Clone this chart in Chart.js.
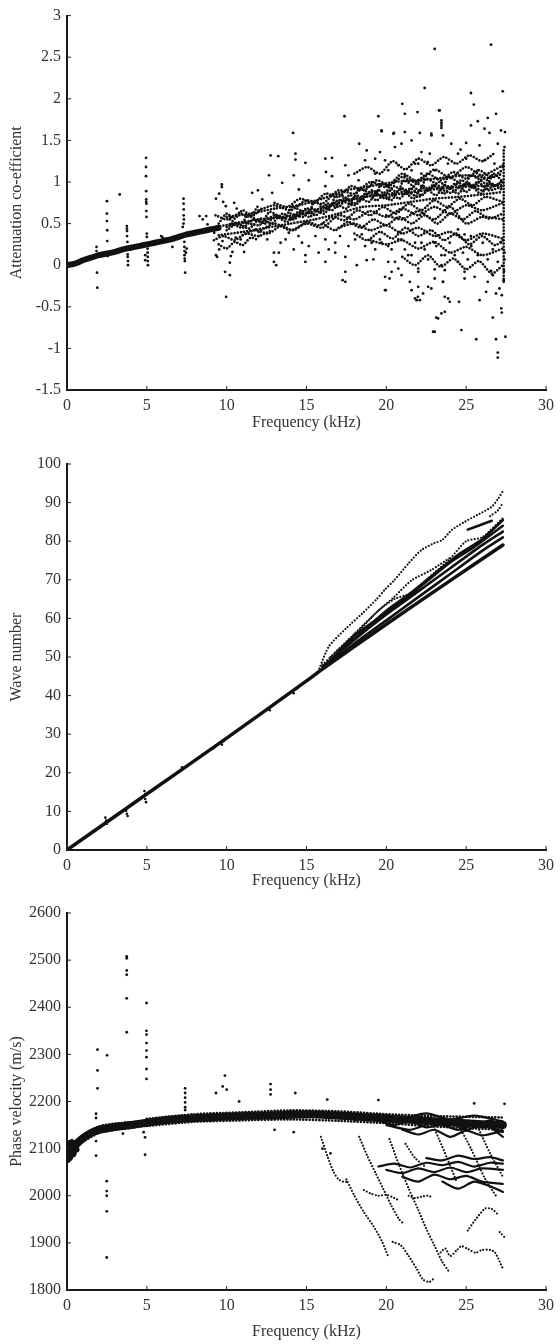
<!DOCTYPE html>
<html>
<head>
<meta charset="utf-8">
<script src="https://cdn.jsdelivr.net/npm/chart.js@4.4.1/dist/chart.umd.min.js"></script>
<style>
  html, body { margin: 0; padding: 0; background: #fff; }
  canvas { display: block; }
</style>
</head>
<body>
<canvas id="attn" width="560" height="436"></canvas>
<canvas id="wave" width="560" height="454"></canvas>
<canvas id="vel" width="560" height="454"></canvas>
<script>
// ---------- attenuation co-efficient vs frequency (kHz) ----------
const attnBand = [[0,0],[0.5,0.02],[1,0.06],[1.5,0.09],[2,0.12],[2.5,0.14],[3,0.16],[3.5,0.19],[4,0.21],[4.5,0.23],[5,0.25],[5.5,0.27],[6,0.29],[6.5,0.31],[7,0.34],[7.5,0.37],[8,0.39],[8.5,0.41],[9,0.43],[9.5,0.45]];
const attnStreaks = [[1.85,0.22],[1.85,0.17],[1.88,-0.09],[1.9,-0.27],
  [2.5,0.77],[2.5,0.62],[2.5,0.53],[2.52,0.42],[2.52,0.29],[2.55,0.11],[3.3,0.85],
  [3.75,0.47],[3.75,0.44],[3.76,0.41],[3.76,0.35],[3.78,0.28],[3.8,0.13],[3.8,0.1],[3.82,0.05],[3.82,0.0],
  [4.95,1.29],[4.95,1.18],[4.95,1.07],[4.96,0.89],[4.96,0.79],[4.96,0.76],[4.97,0.74],[4.97,0.65],[4.98,0.58],[5.0,0.38],[5.0,0.34],
  [5.05,0.2],[5.05,0.15],[5.06,0.1],[5.06,0.05],[5.07,0.0],[4.9,0.12],[4.9,0.06],
  [5.9,0.35],[6.0,0.33],[6.2,0.32],[6.6,0.22],
  [7.3,0.8],[7.3,0.74],[7.31,0.67],[7.31,0.6],[7.32,0.55],[7.3,0.5],[7.25,0.46],[7.35,0.28],[7.35,0.22],[7.36,0.17],[7.36,0.12],
  [7.37,0.08],[7.38,0.05],[7.4,-0.09],[7.5,0.2],[7.45,0.15]];
const attnCloud = [
  [9.33,0.8],[9.7,0.97],[9.7,0.94],[9.53,0.86],[9.78,0.76],[9.95,0.71],[10.47,0.75],[10.63,0.68],[10.78,0.63],[11.6,0.87],[11.96,0.9],
  [9.33,0.12],[9.4,0.1],[9.9,-0.08],[10.2,-0.12],[10.2,0.03],[10.26,0.11],[9.53,0.19],[11.09,0.16],[10.36,0.16],[9.74,0.29],
  [10.57,0.33],[10.88,0.31],[9.22,0.39],[8.8,0.49],[8.5,0.55],[8.3,0.59],[8.72,0.59],[11.5,0.59],[11.2,0.51],[9.97,-0.38],
  [17.38,1.79],[14.16,1.59],[19.5,1.79],[21.0,1.94],[21.16,1.82],[22.4,2.13],[23.03,2.6],[21.95,1.84],[23.3,1.86],[23.45,1.71],
  [23.45,1.65],[22.82,1.58],[22.1,1.59],[20.48,1.59],[19.7,1.62],[18.3,1.46],[18.77,1.38],[20.54,1.42],[16.18,1.28],[16.6,1.29],
  [12.75,1.32],[13.23,1.31],[14.31,1.34],[14.31,1.27],[14.93,1.23],[17.43,1.2],[16.22,1.12],[14.2,1.08],[12.65,1.08],[19.6,1.36],
  [19.3,1.28],[18.67,1.26],[21.16,1.6],[21.58,1.5],[20.95,1.46],[22.2,1.36],[22.72,1.34],[21.8,1.22],
  [12.96,0.04],[13.1,0.0],[13.27,0.15],[14.72,0.27],[14.93,0.12],[14.93,0.04],[16.18,0.04],[17.43,-0.08],[17.26,-0.18],[17.43,-0.2],
  [19.92,-0.14],[19.92,-0.3],[20.2,-0.16],[20.33,-0.08],[19.19,0.07],[18.77,0.06],[17.43,0.1],[18.15,0.0],[21.47,-0.2],[21.58,-0.3],
  [21.8,-0.4],[22.1,-0.42],[22.3,-0.34],[22.62,-0.26],[23.03,-0.16],[22.93,-0.8],[23.24,-0.64],[23.66,-0.56],[23.55,-0.2],[23.03,-0.05],
  [22.0,-0.08],[21.37,0.12],[20.95,-0.12],[20.54,0.04],[19.3,0.19],[18.67,0.23],[17.63,0.23],[16.8,0.15],[16.39,0.19],[15.76,0.15],
  [15.14,0.23],[14.2,0.19],[13.69,0.31],[13.38,0.27],[11.82,0.43],[12.96,0.15],
  [26.56,2.65],[25.3,2.07],[27.29,2.09],[25.48,1.93],[23.34,1.86],[25.3,1.68],[25.73,1.73],[26.35,1.77],[26.87,1.82],[26.15,1.64],
  [26.46,1.59],[27.18,1.62],[27.43,1.6],[23.45,1.74],[23.45,1.68],[23.55,1.56],[24.07,1.46],[25.0,1.47],[24.65,1.39],[25.84,1.44],
  [26.98,1.46],[27.4,1.42],[19.71,1.61],[20.44,1.58],[22.83,1.56],
  [23.03,-0.8],[24.7,-0.78],[25.63,-0.89],[26.87,-0.89],[26.98,-1.05],[26.98,-1.11],[27.46,-0.86],[26.67,-0.63],[27.23,-0.57],[27.2,-0.52],
  [23.13,-0.63],[23.45,-0.58],[19.96,-0.3],[21.9,-0.42],[21.98,-0.38],[22.82,-0.28],[23.55,-0.2],[23.66,-0.38],[23.87,-0.4],[23.97,-0.44],
  [24.55,-0.44],[24.9,-0.16],[25.53,-0.14],[25.84,-0.42],[26.25,-0.32],[26.35,-0.2],[26.67,-0.12],[26.87,-0.34],[27.08,-0.28],[27.23,-0.36],
  [27.35,-0.18],[26.56,-0.07],[27.37,-0.07],[27.4,0.07],[23.66,-0.06],[22.0,-0.26],
  [24.49,1.34],[25.0,1.28],[23.86,1.22],[22.6,1.24],[22.0,1.22],[20.75,1.2],[21.58,1.14],[26.15,1.26],[26.77,1.22],[27.29,1.18],
  [25.73,1.14],[19.92,1.26],
  [19.7,0.27],[20.33,0.19],[20.95,0.31],[21.58,0.12],[22.2,0.27],[22.62,0.07],[23.13,0.23],[23.66,0.12],[23.97,0.27],[24.28,0.12],
  [24.49,0.04],[24.8,0.15],[25.1,0.07],[25.32,0.23],[25.73,0.12],[26.04,0.27],[26.35,0.07],[26.67,0.19],[26.98,0.04],[27.18,0.27],
  [27.4,0.15],[23.45,0.0],[24.9,-0.08],[22.0,-0.04],[20.75,-0.04],[20.12,0.04],[24.49,0.43],[24.9,0.37],[25.3,0.35],
  [12.0,0.35],[12.54,0.31],[13.89,0.39],[14.5,0.35],[15.56,0.35],[16.18,0.31],[16.8,0.27],[17.1,0.35],[18.05,0.31],[18.46,0.37],
  [19.08,0.27],[19.6,0.31],[20.12,0.23],[20.75,0.31],[21.16,0.19],[21.8,0.27],[22.4,0.19],[23.03,0.27],[23.45,0.12],
  [13.48,0.99],[15.14,1.02],[16.6,1.07],[17.63,1.08],[18.26,1.02],[19.3,1.1],[20.12,1.14],[21.16,1.07],[22.2,1.1],[23.03,1.14],
  [16.18,0.95],[14.52,0.91],[12.85,0.87],[12.23,0.79]];
// mode tracks forming the dense core of the cloud
const attnTracks = [
  [[9,0.45],[10.5,0.5],[12,0.55],[13.5,0.58],[15,0.62],[16.5,0.72],[18,0.8],[19.5,0.84],[21,0.86],[22.5,0.9],[24,0.93],[25.5,0.95],[27.3,0.96]],
  [[10,0.58],[11.5,0.62],[13,0.68],[14.5,0.72],[16,0.8],[17.5,0.9],[19,0.95],[20.5,1.0],[22,1.02],[23.5,1.05],[25,1.08],[26.5,1.05],[27.3,1.1]],
  [[9.5,0.36],[11,0.4],[12.5,0.45],[14,0.5],[15.5,0.55],[17,0.62],[18.5,0.7],[20,0.72],[21.5,0.76],[23,0.8],[24.5,0.82],[26,0.85],[27.3,0.88]],
  [[10,0.46],[11,0.52],[12,0.48],[13,0.6],[14,0.55],[15,0.68],[16,0.65],[17,0.78],[18,0.72],[19,0.88],[20,0.8],[21,0.92],[22,0.82],[23,0.95],[24,0.87],[25,0.98],[26,0.9],[27.3,1.0]],
  [[12,0.4],[13,0.5],[14,0.42],[15,0.5],[16,0.45],[17,0.6],[18,0.55],[19,0.65],[20,0.58],[21,0.68],[22,0.6],[23,0.7],[24,0.62],[25,0.72],[26,0.66],[27.3,0.75]],
  [[12,0.66],[13,0.72],[14,0.66],[15,0.78],[16,0.74],[17,0.9],[18,0.86],[19,1.0],[20,0.94],[21,1.1],[22,1.0],[23,1.15],[24,1.05],[25,1.18],[26,1.08],[27.3,1.2]],
  [[17,0.45],[18,0.5],[19,0.42],[20,0.48],[21,0.38],[22,0.45],[23,0.35],[24,0.4],[25,0.3],[26,0.38],[27.3,0.32]],
  [[19,0.3],[20,0.25],[21,0.3],[22,0.2],[23,0.28],[24,0.15],[25,0.22],[26,0.12],[27.3,0.2]],
  [[20,0.6],[21,0.55],[22,0.65],[23,0.55],[24,0.7],[25,0.5],[26,0.58],[27.3,0.55]],
  [[9.2,0.3],[9.8,0.35],[10.5,0.3],[11.2,0.38],[12,0.35],[12.8,0.42]],
  [[9.3,0.6],[10,0.55],[10.8,0.62],[11.5,0.58],[12.3,0.7]],
  [[27.35,-0.2],[27.35,1.4]],
  [[10,0.42],[10.7,0.5],[11.4,0.44],[12.1,0.56],[12.8,0.5],[13.5,0.62],[14.2,0.55],[14.9,0.66],[15.6,0.6],[16.3,0.74],[17,0.7],[17.7,0.84],[18.4,0.78],[19.1,0.9],[19.8,0.82],[20.5,0.95],[21.2,0.85],[21.9,0.98],[22.6,0.9],[23.3,1.0],[24,0.92],[24.7,1.02],[25.4,0.94],[26.1,1.04],[26.8,0.96],[27.3,1.02]],
  [[10.3,0.5],[11,0.45],[11.7,0.55],[12.4,0.5],[13.1,0.58],[13.8,0.52],[14.5,0.64],[15.2,0.58],[15.9,0.7],[16.6,0.66],[17.3,0.8],[18,0.74],[18.7,0.86],[19.4,0.78],[20.1,0.9],[20.8,0.8],[21.5,0.92],[22.2,0.84],[22.9,0.96],[23.6,0.86],[24.3,0.98],[25,0.88],[25.7,1.0],[26.4,0.9],[27.3,0.95]],
  [[11,0.36],[11.8,0.42],[12.6,0.38],[13.4,0.47],[14.2,0.42],[15,0.52],[15.8,0.48],[16.6,0.58],[17.4,0.54],[18.2,0.66],[19,0.6],[19.8,0.7],[20.6,0.62],[21.4,0.74],[22.2,0.66],[23,0.78],[23.8,0.7],[24.6,0.8],[25.4,0.72],[26.2,0.82],[27.3,0.76]],
  [[13,0.75],[13.8,0.7],[14.6,0.8],[15.4,0.74],[16.2,0.86],[17,0.82],[17.8,0.95],[18.6,0.9],[19.4,1.02],[20.2,0.96],[21,1.06],[21.8,1.0],[22.6,1.1],[23.4,1.02],[24.2,1.12],[25,1.04],[25.8,1.14],[26.6,1.06],[27.3,1.15]],
  [[18,0.38],[18.8,0.3],[19.6,0.4],[20.4,0.32],[21.2,0.45],[22,0.35],[22.8,0.42],[23.6,0.3],[24.4,0.38],[25.2,0.25],[26,0.35],[26.8,0.24],[27.3,0.3]],
  [[21,0.1],[21.8,0.0],[22.6,0.12],[23.4,-0.02],[24.2,0.08],[25,-0.05],[25.8,0.05],[26.6,-0.1],[27.3,0.0]],
  [[16,0.5],[16.8,0.42],[17.6,0.52],[18.4,0.45],[19.2,0.55],[20,0.48],[20.8,0.58],[21.6,0.5],[22.4,0.6],[23.2,0.5],[24,0.62],[24.8,0.55],[25.6,0.65],[26.4,0.56],[27.3,0.62]],
  [[18,1.1],[18.8,1.18],[19.6,1.1],[20.4,1.25],[21.2,1.15],[22,1.28],[22.8,1.2],[23.6,1.3],[24.4,1.22],[25.2,1.32],[26,1.25],[26.8,1.35]],
  [[9.5,0.5],[10,0.62],[10.5,0.56],[11,0.66],[11.5,0.6],[12,0.72]],
  [[9.5,0.25],[10,0.2],[10.5,0.28],[11,0.24],[11.5,0.33],[12,0.3]],
  [[10.2,0.55],[10.9,0.48],[11.3,0.6],[12.2,0.52],[12.7,0.64],[13.6,0.56],[14.1,0.7],[15.1,0.62],[15.5,0.76],[16.4,0.68],[16.9,0.85],[17.9,0.78],[18.3,0.92],[19.3,0.84],[19.7,0.98],[20.7,0.88],[21.1,1.02],[22.1,0.9],[22.5,1.04],[23.5,0.94],[23.9,1.06],[24.9,0.96],[25.3,1.08],[26.3,0.98],[26.7,1.1],[27.3,1.0]],
  [[14,0.62],[14.8,0.58],[15.3,0.68],[16.1,0.62],[16.7,0.75],[17.5,0.68],[18.1,0.84],[18.9,0.76],[19.5,0.9],[20.3,0.78],[20.9,0.92],[21.7,0.8],[22.3,0.95],[23.1,0.84],[23.7,0.96],[24.5,0.86],[25.1,0.99],[25.9,0.86],[26.5,0.98],[27.3,0.9]]];

// ---------- wave number vs frequency (kHz) ----------
const waveMain = [[0,0],[5,14.5],[10,29],[15,43.8],[16,46.9],[20,58.5],[24,69.8],[27.3,79]];
const waveBundle = [
  [[16,47],[18,53.5],[20,59.5],[22,65.5],[24,71.5],[26,77.5],[27.3,81]],
  [[16,47.5],[18,54.5],[20,61],[22,67],[24,73],[26,79],[27.3,82.5]],
  [[16.5,49],[18,55.5],[19.5,60],[21,64.5],[22.5,69.5],[24,74.5],[25.5,78.5],[27.3,84]],
  [[17,51],[18.5,56.5],[20,62],[21.5,66.5],[23,71.5],[24.5,76.5],[26,80.5],[27.3,85.5]],
  [[25.1,83],[26.6,85.3]]];
const waveBranches = [
  [[16.5,50],[18,56],[19.5,62],[20.5,65],[21.5,66.5],[22.5,70],[24,75.5],[25,80],[26,81],[27.3,86]],
  [[15.8,47],[16.4,52.7],[17.5,57.5],[18.5,61.3],[19.4,65],[19.9,67.4],[20.5,69.9],[21.4,74.3],[22.2,77.7],[23,79.5],[23.5,80.3],[24.1,82.9],[24.9,85],[25.7,86.8],[26.6,88.9],[27,91],[27.3,93]],
  [[16,48],[17.3,53],[18.5,57.8],[19.5,62],[20.5,65.6],[21.6,69.9],[22.8,72.5],[24.1,76]],
  [[26.5,86.5],[27,88],[27.3,90]]];
const waveKinks = [[2.4,8.4],[2.45,7.6],[2.5,6.8],[3.7,10.2],[3.75,9.4],[3.8,8.8],[4.85,15.3],[4.9,14.5],[4.9,13.2],[4.95,12.4],
  [7.2,21.4],[9.2,26.4],[9.7,27.3],[9.8,28.2],[12.7,36.2],[12.9,37.6],[14.2,40.6],[14.4,41.8]];

// ---------- phase velocity (m/s) vs frequency (kHz) ----------
const velBand = [[0.3,2098],[0.6,2110],[1,2122],[1.5,2133],[2,2140],[2.5,2143],[3,2146],[4,2150],[5,2155],[6,2160],[7,2163],[8,2165],
  [9,2166],[10,2168],[11,2169],[12,2170],[13,2171],[14,2172],[15,2173],[16,2172],[17,2170],[18,2168],[19,2166],[20,2164],[21,2162],
  [22,2160],[23,2158],[24,2156],[25,2154],[26,2152],[27.3,2150]];
const velOnset = [[0.05,2076],[0.1,2112],[0.2,2080],[0.3,2114],[0.4,2088],[0.5,2110],[0.6,2098]];
const velFuzz = [
  [[5,2163],[8,2173],[11,2177],[14,2181],[17,2179],[20,2173],[23,2169],[27.3,2166]],
  [[5,2148],[8,2157],[11,2160],[14,2162],[17,2159],[20,2154],[23,2147],[27.3,2140]],
  [[1,2128],[2,2147],[3,2153],[4,2156],[5,2160]],
  [[1,2115],[2,2133],[3,2140],[4,2144],[5,2149]]];
const velBundle = [
  [[19,2165],[20.5,2150],[21.5,2160],[22.5,2145],[24,2155],[25,2140],[26,2150],[27.3,2135]],
  [[20,2170],[21,2158],[22,2168],[23.5,2150],[24.5,2165],[25.5,2148],[26.5,2160],[27.3,2145]],
  [[21,2140],[22,2130],[23,2140],[24,2125],[25,2138],[26,2128],[27.3,2138]],
  [[18,2160],[19.5,2172],[21,2165],[22.5,2175],[24,2162],[25.5,2170],[27.3,2158]],
  [[20,2150],[21.5,2140],[23,2155],[24.5,2140],[26,2155],[27.3,2125]],
  [[19.5,2062],[20.5,2068],[21.5,2060],[22.5,2070],[23.5,2065],[24.5,2072],[25.5,2062],[26.5,2070],[27.3,2068]],
  [[20,2055],[21,2048],[22,2058],[23,2050],[24,2060],[25,2050],[26,2058],[27.3,2055]],
  [[21,2040],[22,2030],[23,2045],[24,2035],[25,2042],[26,2030],[27.3,2025]],
  [[22.5,2080],[23.5,2075],[24.5,2085],[25.5,2078],[26.5,2082],[27.3,2075]],
  [[23.5,2030],[24.5,2015],[25.5,2030],[26.5,2020],[27.3,2008]]];
const velBranches = [
  [[15.9,2125],[16.3,2085],[16.7,2050],[17.0,2035],[17.3,2030],[17.6,2030]],
  [[17.5,2035],[18.0,2000],[18.6,1965],[19.2,1935],[19.7,1905],[20.1,1873]],
  [[18.3,2125],[18.8,2085],[19.3,2050],[19.8,2015],[20.3,1980],[20.8,1950],[21.1,1940]],
  [[18.6,2012],[19.0,2005],[19.5,2000],[20.0,2002],[20.5,1995],[20.8,1990]],
  [[20.2,2120],[20.8,2065],[21.4,2015],[22.0,1970],[22.5,1930],[23.0,1895],[23.5,1860],[23.9,1840]],
  [[20.4,1902],[20.9,1895],[21.4,1872],[21.9,1845],[22.3,1822],[22.7,1817],[23.0,1825]],
  [[21.4,2000],[21.8,1995],[22.2,1998],[22.6,2000],[22.9,1996]],
  [[22.7,2165],[23.3,2120],[23.8,2080],[24.4,2030]],
  [[24.6,2145],[25.3,2100],[26.2,2035],[26.9,1998]],
  [[25.8,2140],[26.5,2090],[27.3,2040]],
  [[21.2,2110],[21.8,2080],[22.5,2060]],
  [[23.4,1880],[23.7,1888],[24.0,1872],[24.4,1884],[24.7,1893],[25.1,1887],[25.6,1879],[26.0,1885],[26.5,1885],[26.8,1880],[27.3,1845]],
  [[25.1,1926],[25.6,1950],[26.2,1973],[26.6,1972],[27.0,1960]],
  [[27.1,1923],[27.4,1912]]];
const velScatter = [[1.91,2310],[1.91,2266],[1.91,2228],[2.51,2298],
  [3.74,2508],[3.74,2504],[3.74,2478],[3.74,2469],[3.74,2419],[3.74,2347],
  [4.98,2409],[4.98,2350],[4.98,2342],[4.98,2324],[4.98,2308],[4.98,2294],[4.98,2269],[4.98,2248],
  [1.82,2174],[1.82,2165],[1.82,2116],[1.82,2085],[2.49,2031],[2.49,2010],[2.49,2000],[2.49,1967],[2.49,1869],
  [4.89,2124],[4.89,2087],[3.5,2132],[4.8,2135],
  [7.4,2228],[7.4,2218],[7.4,2208],[7.4,2198],[7.4,2188],[7.4,2182],
  [9.33,2218],[9.89,2255],[9.75,2232],[10.0,2225],[10.78,2200],[12.75,2237],[12.75,2225],[12.75,2215],
  [14.3,2218],[16.3,2204],[19.5,2203],[25.5,2196],[27.4,2195],[13.0,2140],[14.2,2135],[16.0,2100],[16.5,2090]];

const INK = "#111";
const TEXT = "#333";
const FONT = "'Liberation Serif', 'DejaVu Serif', serif";

const pts = list => list.map(p => ({ x: p[0], y: p[1] }));
const dots = (list, r) => ({ data: pts(list), showLine: false, pointRadius: r || 1.4, pointBackgroundColor: INK, pointBorderWidth: 0 });
const solid = (list, w) => ({ data: pts(list), showLine: true, pointRadius: 0, borderColor: INK, borderWidth: w, borderCapStyle: "round", borderJoinStyle: "round", tension: 0.25 });
const dotted = (list, w) => Object.assign(solid(list, w || 2.7), { borderDash: [0, 3.2] });

// small tick marks pointing into the plot
const inwardTicks = {
  id: "inwardTicks",
  afterDraw(chart) {
    const { ctx, chartArea: a, scales: { x, y } } = chart;
    ctx.save();
    ctx.strokeStyle = "#222";
    ctx.lineWidth = 1;
    x.ticks.forEach(t => {
      const px = x.getPixelForValue(t.value);
      ctx.beginPath(); ctx.moveTo(px, a.bottom); ctx.lineTo(px, a.bottom - 4); ctx.stroke();
    });
    y.ticks.forEach(t => {
      const py = y.getPixelForValue(t.value);
      ctx.beginPath(); ctx.moveTo(a.left, py); ctx.lineTo(a.left + 4, py); ctx.stroke();
    });
    ctx.restore();
  }
};

function makeChart(id, datasets, ySpec, yTitle, padTop, xHeight, xTitlePad) {
  return new Chart(document.getElementById(id), {
    type: "scatter",
    data: { datasets },
    plugins: [inwardTicks],
    options: {
      responsive: false,
      animation: false,
      layout: { padding: { top: padTop, right: 12, left: 0, bottom: 0 } },
      plugins: { legend: { display: false }, tooltip: { enabled: false } },
      scales: {
        x: {
          min: 0, max: 30,
          grid: { display: false, drawTicks: false },
          border: { display: true, color: "#1a1a1a", width: 2 },
          ticks: { stepSize: 5, padding: 6, color: TEXT, font: { family: FONT, size: 16 }, callback: v => String(v) },
          title: { display: true, text: "Frequency (kHz)", color: TEXT, padding: { top: 0, bottom: xTitlePad }, font: { family: FONT, size: 16 } },
          afterFit(s) { s.height = xHeight; }
        },
        y: {
          min: ySpec.min, max: ySpec.max,
          grid: { display: false, drawTicks: false },
          border: { display: true, color: "#1a1a1a", width: 2 },
          ticks: { stepSize: ySpec.step, padding: 6, color: TEXT, font: { family: FONT, size: 16 }, callback: v => String(v) },
          title: { display: true, text: yTitle, color: TEXT, padding: { top: 7, bottom: 0 }, font: { family: FONT, size: 16 } },
          afterFit(s) { s.width = 67; }
        }
      }
    }
  });
}

makeChart("attn", [
  solid(attnBand, 6),
  ...attnTracks.map(t => dotted(t)),
  dots(attnStreaks),
  dots(attnCloud)
], { min: -1.5, max: 3, step: 0.5 }, "Attenuation co-efficient", 11, 46, 4);

makeChart("wave", [
  solid(waveMain, 3.5),
  ...waveBundle.map(t => solid(t, 2.6)),
  ...waveBranches.map(t => dotted(t, 2.2)),
  dots(waveKinks, 1.3)
], { min: 0, max: 100, step: 10 }, "Wave number", 28, 40, 0);

makeChart("vel", [
  solid(velBand, 8),
  solid(velOnset, 6),
  ...velFuzz.map(t => dotted(t)),
  ...velBundle.map(t => solid(t, 2.2)),
  ...velBranches.map(t => dotted(t, 2.2)),
  dots(velScatter)
], { min: 1800, max: 2600, step: 100 }, "Phase velocity (m/s)", 23, 54, 3);
</script>
</body>
</html>
